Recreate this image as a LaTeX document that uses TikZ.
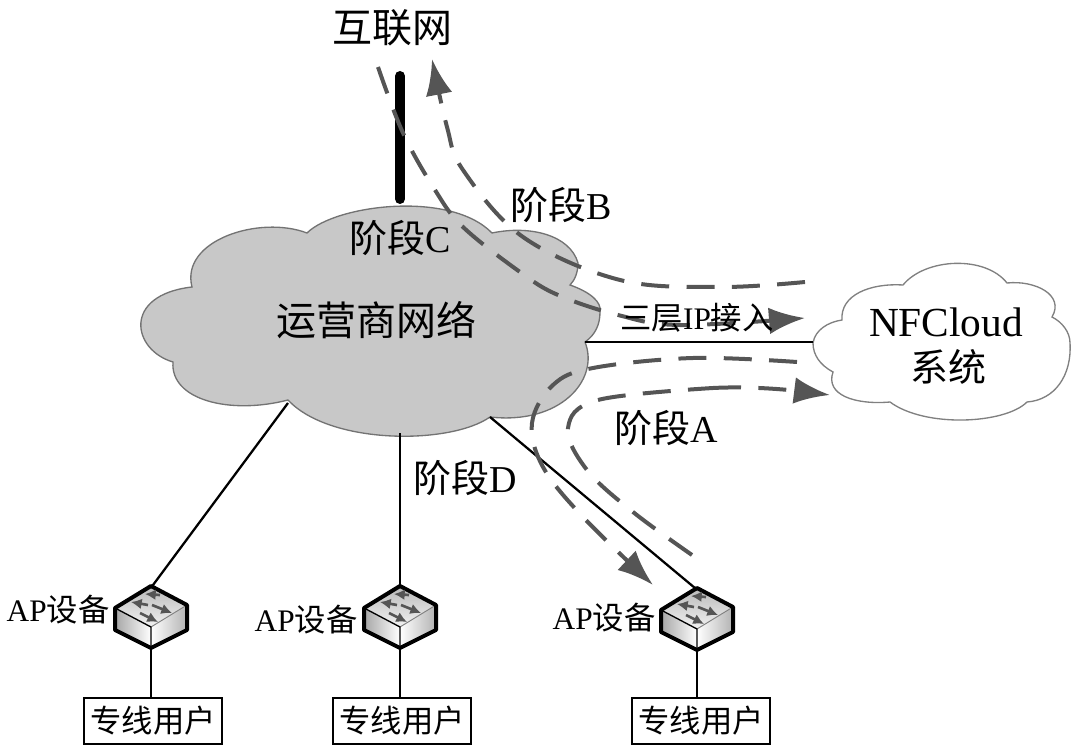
\documentclass[tikz,border=0pt]{standalone}
\usepackage{fontspec}
\setmainfont{Liberation Serif}
\newfontfamily\cjk{Noto Sans CJK SC}
\usetikzlibrary{
	arrows.meta,
	positioning,
	calc
}
\definecolor{cloudgray}{HTML}{C8C8C8}
\definecolor{flowgray}{HTML}{555555}
\newcommand{\zh}[1]{{\cjk #1}}
\tikzset{
	biglabel/.style={font=\fontsize{30}{32}\selectfont,inner sep=0pt},
	midlabel/.style={font=\fontsize{28.5}{30}\selectfont,inner sep=0pt},
	cloudlabel/.style={font=\fontsize{31}{33}\selectfont,inner sep=0pt},
	smalllabel/.style={font=\fontsize{23.5}{25}\selectfont,inner sep=0pt},
	flowline/.style={color=flowgray,line width=3pt,dash pattern=on 21pt off 13pt},
	flowtip/.style={-{Latex[length=27pt,width=20pt]}},
	link/.style={line width=1.7pt},
	userbox/.style={draw,line width=1.3pt,minimum width=104pt,minimum height=34pt,inner sep=0pt,font=\fontsize{23.5}{25}\selectfont},
	switchnode/.style={minimum width=54pt,minimum height=46.5pt,inner sep=0pt},
	switchicon/.pic={
		\shade[left color=gray!70,right color=white] (-36,-11) -- (0,8) -- (0,29) -- (-36,11) -- cycle;
		\shade[left color=white,right color=gray!60] (0,8) -- (36,-14) -- (36,11) -- (0,29) -- cycle;
		\shade[top color=gray!55,bottom color=gray!10] (-36,-11) -- (0,-33) -- (36,-14) -- (0,8) -- cycle;
		\draw[line width=.7pt,color=gray] (0,8) -- (36,-14);
		\draw[line width=1pt] (-36,-11) -- (0,8) -- (0,29);
		\draw[line width=3pt,line join=round] (0,-33) -- (36,-14) -- (36,11) -- (0,29) -- (-36,11) -- (-36,-11) -- cycle;
		\foreach \ax/\ay/\bx/\by in {9/-24/-6/-25, -3/-14/-20/-17, 1/-14/21/-6, -11/-6/7/3} {
			\draw[color=flowgray,line width=2pt,-{Latex[length=8pt,width=8pt]}] (\ax,\ay) -- (\bx,\by);
		}
	}
}

\begin{document}
\begin{tikzpicture}[x=.75pt,y=-.75pt]
	\useasboundingbox (0,0) rectangle (1077,752);

	% operator cloud
	\draw[draw=gray!90!black,line width=1pt,fill=cloudgray]
		(307,233) .. controls (335,205) and (450,190) .. (492,233)
		.. controls (530,225) and (570,235) .. (578,263)
		.. controls (578,272) and (575,280) .. (570,285)
		.. controls (590,292) and (602,302) .. (600,312)
		.. controls (600,325) and (595,335) .. (585,342)
		.. controls (600,380) and (560,425) .. (490,417)
		.. controls (450,445) and (330,445) .. (288,400)
		.. controls (230,415) and (170,400) .. (173,362)
		.. controls (132,350) and (122,295) .. (192,287)
		.. controls (180,240) and (260,215) .. cycle;

	% NFCloud cloud
	\draw[draw=gray,fill=white,line width=1pt]
		(813,343) .. controls (815,330) and (828,322) .. (842,320)
		.. controls (840,295) and (870,283) .. (903,285)
		.. controls (925,258) and (985,255) .. (1007,283)
		.. controls (1035,280) and (1065,295) .. (1052,317)
		.. controls (1062,322) and (1070,332) .. (1070,343)
		.. controls (1072,375) and (1055,400) .. (1027,402)
		.. controls (1005,424) and (925,428) .. (890,402)
		.. controls (855,405) and (825,395) .. (833,372)
		.. controls (820,365) and (813,355) .. cycle;

	\coordinate (netE) at (585,342);
	\coordinate (netSW) at (288,403);
	\coordinate (netS) at (400,433);
	\coordinate (netSE) at (490,417);
	\coordinate (cloudW) at (813,342);
	\coordinate (mastT) at (400,76);
	\coordinate (mastB) at (400,199);

	\draw[line width=7.5pt,line cap=round] (mastT) -- (mastB);
	\draw[link] (netE) -- (cloudW);

	\foreach \sname/\x/\y/\ux/\lx/\ly/\lnk in {
			swa/151/619/153/58/610/netSW,
			swb/400/619/402/306/620/netS,
			swc/697/621/701/604/618/netSE} {
		\node[switchnode] (\sname) at (\x,\y) {};
		\pic at (\x,\y) {switchicon};
		\node[userbox] (\sname box) at (\ux,721) {\zh{专线用户}};
		\node[smalllabel] (\sname txt) at (\lx,\ly) {AP\zh{设备}};
		\draw[link] (\lnk) -- (\sname.north);
		\draw[link] (\sname.south) -- (\sname.south |- \sname box.north);
	}

	% flows
	\coordinate (flowCin) at (378,67);
	\coordinate (flowCout) at (805,318);
	\coordinate (flowBin) at (805,282);
	\coordinate (flowBout) at (432,59);
	\coordinate (flowAa) at (797,362);
	\coordinate (flowAb) at (653,585);
	\coordinate (flowDa) at (692,555);
	\coordinate (flowDb) at (830,395);

	\draw[flowline,flowtip] plot[smooth,tension=.6] coordinates {(flowCin) (403,133) (435,190) (463,227) (520,272) (558,295) (618,315) (680,325) (flowCout)};
	\draw[flowline,flowtip] plot[smooth,tension=.6] coordinates {(flowBin) (720,287) (620,280) (523,237) (463,170) (447,127) (flowBout)};
	\draw[flowline,flowtip] plot[smooth,tension=.6] coordinates {(flowAa) (693,358) (593,368) (553,385) (532,423) (543,467) (583,517) (flowAb)};
	\draw[flowline] plot[smooth,tension=.6] coordinates {(flowDa) (633,512) (587,470) (568,428) (598,400) (713,388)};
	\draw[flowline,flowtip] (713,388) .. controls (750,386) and (790,390) .. (flowDb);

	% labels
	\node[biglabel] (inet) at (392,28) {\zh{互联网}};
	\node[midlabel] (stageB) at (561,205) {\zh{阶段}B};
	\node[midlabel] (stageC) at (400,238) {\zh{阶段}C};
	\node[biglabel] (operator) at (376,320) {\zh{运营商网络}};
	\node[smalllabel] (layer3) at (697,318) {\zh{三层}IP\zh{接入}};
	\node[cloudlabel] (nfcloud) at (946,322) {NFCloud};
	\node[midlabel] (nfsys) at (948,367) {\zh{系统}};
	\node[midlabel] (stageA) at (666,428) {\zh{阶段}A};
	\node[midlabel] (stageD) at (465,478) {\zh{阶段}D};
\end{tikzpicture}
\end{document}
